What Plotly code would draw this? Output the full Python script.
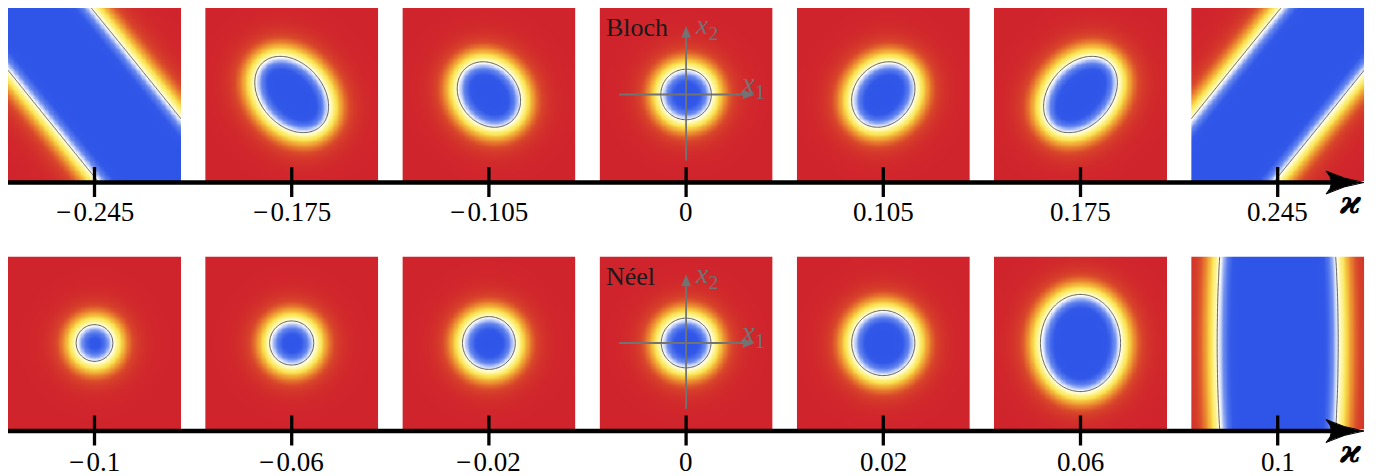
import numpy as np
import plotly.graph_objects as go

W, H = 1379, 476
OFF = 8.0  # page body margin of the browser

# ---------------- data ----------------
bloch_kappa = [-0.245, -0.175, -0.105, 0, 0.105, 0.175, 0.245]
bloch_labels = ["−\u200a0.245", "−\u200a0.175", "−\u200a0.105", "0", "0.105", "0.175", "0.245"]
# skyrmion / stripe shape: semi-axis along tilt (px), semi-axis across (px), tilt (deg)
bloch_a = [1000, 43, 35, 25.2, 35, 43, 1000]
bloch_b = [52, 31, 29, 25.2, 29, 31, 52]
bloch_angle = [-51, -48, -50, 0, 50, 48, 51]

neel_kappa = [-0.1, -0.06, -0.02, 0, 0.02, 0.06, 0.1]
neel_labels = ["−\u200a0.1", "−\u200a0.06", "−\u200a0.02", "0", "0.02", "0.06", "0.1"]
neel_a = [18.3, 22, 26.3, 24.8, 32.5, 48.5, 300]
neel_b = [18.3, 22, 26.3, 24.8, 31.5, 40, 60.5]
neel_angle = [0, 0, 0, 0, 90, 90, 90]

# ---------------- layout geometry (pixels) ----------------
PANEL = 173.0
PITCH = 197.2
LEFT0 = 8.0
rows = [
    dict(top=8.0, axis_y=182.5, label_y=212, kappa_y=202, name="Bloch",
         a=bloch_a, b=bloch_b, ang=bloch_angle, labels=bloch_labels, kap=bloch_kappa),
    dict(top=256.5, axis_y=431.0, label_y=462, kappa_y=451, name="Néel",
         a=neel_a, b=neel_b, ang=neel_angle, labels=neel_labels, kap=neel_kappa),
]

colorscale = [
    [0.00, "rgb(46,84,232)"],
    [0.12, "rgb(50,88,233)"],
    [0.28, "rgb(105,138,238)"],
    [0.40, "rgb(200,212,249)"],
    [0.47, "rgb(245,247,253)"],
    [0.50, "rgb(255,255,236)"],
    [0.58, "rgb(255,248,172)"],
    [0.70, "rgb(250,228,80)"],
    [0.82, "rgb(238,150,50)"],
    [0.92, "rgb(216,70,42)"],
    [1.00, "rgb(208,36,44)"],
]

N = 140
half = PANEL / 2
grid = np.linspace(-half, half, N)
X, Y = np.meshgrid(grid, grid)
W_IN, W_OUT = 13.0, 17.0


def field(a, b, ang):
    p = np.deg2rad(ang)
    u = X * np.cos(p) + Y * np.sin(p)
    v = -X * np.sin(p) + Y * np.cos(p)
    rho = np.sqrt((u / a) ** 2 + (v / b) ** 2) + 1e-9
    g = np.sqrt((u / a ** 2) ** 2 + (v / b ** 2) ** 2) / rho + 1e-12
    d = (rho - 1.0) / g
    m = np.where(d < 0, np.tanh(d / W_IN), np.tanh(d / W_OUT))
    return np.round(m, 3)


def px2x(px):
    return (px - OFF) / W


def py2y(py):
    return 1 - (py - OFF) / H


def P(x, y):
    return f"{px2x(x):.5f},{py2y(y):.5f}"


fig = go.Figure()
layout_axes = {}
shapes = []
annotations = []
gray = "rgb(115,115,115)"
k = 0
for r in rows:
    for i in range(7):
        k += 1
        xname = "x" if k == 1 else f"x{k}"
        yname = "y" if k == 1 else f"y{k}"
        left = LEFT0 + PITCH * i
        z = field(r["a"][i], r["b"][i], r["ang"][i])
        fig.add_trace(go.Heatmap(
            x=grid, y=grid, z=z, zmin=-1, zmax=1, colorscale=colorscale,
            zsmooth="best", showscale=False, hoverinfo="skip",
            xaxis=xname, yaxis=yname))
        fig.add_trace(go.Contour(
            x=grid, y=grid, z=z, showscale=False, hoverinfo="skip",
            contours=dict(start=0, end=0, size=1, coloring="none"),
            line=dict(color="rgba(60,60,60,0.9)", width=0.9),
            xaxis=xname, yaxis=yname))
        xkey = "xaxis" if k == 1 else f"xaxis{k}"
        ykey = "yaxis" if k == 1 else f"yaxis{k}"
        layout_axes[xkey] = dict(domain=[px2x(left), px2x(left + PANEL)],
                                 range=[-half, half], visible=False,
                                 anchor=yname, fixedrange=True)
        layout_axes[ykey] = dict(domain=[py2y(r["top"] + PANEL), py2y(r["top"])],
                                 range=[-half, half], visible=False,
                                 anchor=xname, fixedrange=True)
        cx = left + half
        shapes.append(dict(type="line", xref="paper", yref="paper",
                           x0=px2x(cx), x1=px2x(cx),
                           y0=py2y(r["axis_y"] - 15.5), y1=py2y(r["axis_y"] + 14.5),
                           line=dict(color="black", width=3.3)))
        annotations.append(dict(text=r["labels"][i], xref="paper", yref="paper",
                                x=px2x(cx), y=py2y(r["label_y"]), showarrow=False,
                                xanchor="center", yanchor="middle",
                                font=dict(family="Liberation Serif", size=27, color="black")))
    ay = r["axis_y"]
    shapes.append(dict(type="line", xref="paper", yref="paper",
                       x0=px2x(7), x1=px2x(1345), y0=py2y(ay), y1=py2y(ay),
                       line=dict(color="black", width=4.6)))
    tip = 1364.0
    path = (f"M {P(tip, ay)} Q {P(tip-20, ay-3)} {P(tip-38, ay-11.5)} "
            f"Q {P(tip-27, ay)} {P(tip-38, ay+11.5)} "
            f"Q {P(tip-20, ay+3)} {P(tip, ay)} Z")
    shapes.append(dict(type="path", xref="paper", yref="paper", path=path,
                       fillcolor="black", line=dict(color="black", width=1)))
    annotations.append(dict(text="<b><i>ϰ</i></b>", xref="paper", yref="paper",
                            x=px2x(1350), y=py2y(r["kappa_y"]), showarrow=False,
                            xanchor="center", yanchor="middle",
                            font=dict(family="DejaVu Serif", size=32, color="black")))
    # coordinate-frame overlay in the centre panel
    cx = LEFT0 + PITCH * 3 + half
    cy = r["top"] + half
    shapes.append(dict(type="line", xref="paper", yref="paper",
                       x0=px2x(cx - 67), x1=px2x(cx + 60), y0=py2y(cy), y1=py2y(cy),
                       line=dict(color=gray, width=1.8)))
    hx = cx + 68
    shapes.append(dict(type="path", xref="paper", yref="paper",
                       path=f"M {P(hx, cy)} L {P(hx-11, cy-4.5)} L {P(hx-11, cy+4.5)} Z",
                       fillcolor=gray, line=dict(color=gray, width=0.5)))
    shapes.append(dict(type="line", xref="paper", yref="paper",
                       x0=px2x(cx), x1=px2x(cx), y0=py2y(cy + 66), y1=py2y(cy - 60),
                       line=dict(color=gray, width=1.8)))
    vy = cy - 68
    shapes.append(dict(type="path", xref="paper", yref="paper",
                       path=f"M {P(cx, vy)} L {P(cx-4.5, vy+11)} L {P(cx+4.5, vy+11)} Z",
                       fillcolor=gray, line=dict(color=gray, width=0.5)))
    annotations.append(dict(text="<i>x</i><sub>1</sub>", xref="paper", yref="paper",
                            x=px2x(cx + 67), y=py2y(cy - 9), showarrow=False,
                            xanchor="center", yanchor="middle",
                            font=dict(family="Liberation Serif", size=29, color=gray)))
    annotations.append(dict(text="<i>x</i><sub>2</sub>", xref="paper", yref="paper",
                            x=px2x(cx + 20), y=py2y(r["top"] + 19), showarrow=False,
                            xanchor="center", yanchor="middle",
                            font=dict(family="Liberation Serif", size=28, color=gray)))
    annotations.append(dict(text=r["name"], xref="paper", yref="paper",
                            x=px2x(cx - 82), y=py2y(r["top"] + 20), showarrow=False,
                            xanchor="left", yanchor="middle",
                            font=dict(family="Liberation Serif", size=26, color="#1a1a1a")))

fig.update_layout(
    width=W, height=H, margin=dict(l=0, r=0, t=0, b=0),
    paper_bgcolor="white", plot_bgcolor="white", showlegend=False,
    hovermode=False, shapes=shapes, annotations=annotations, **layout_axes)

fig.write_html("out.html")
